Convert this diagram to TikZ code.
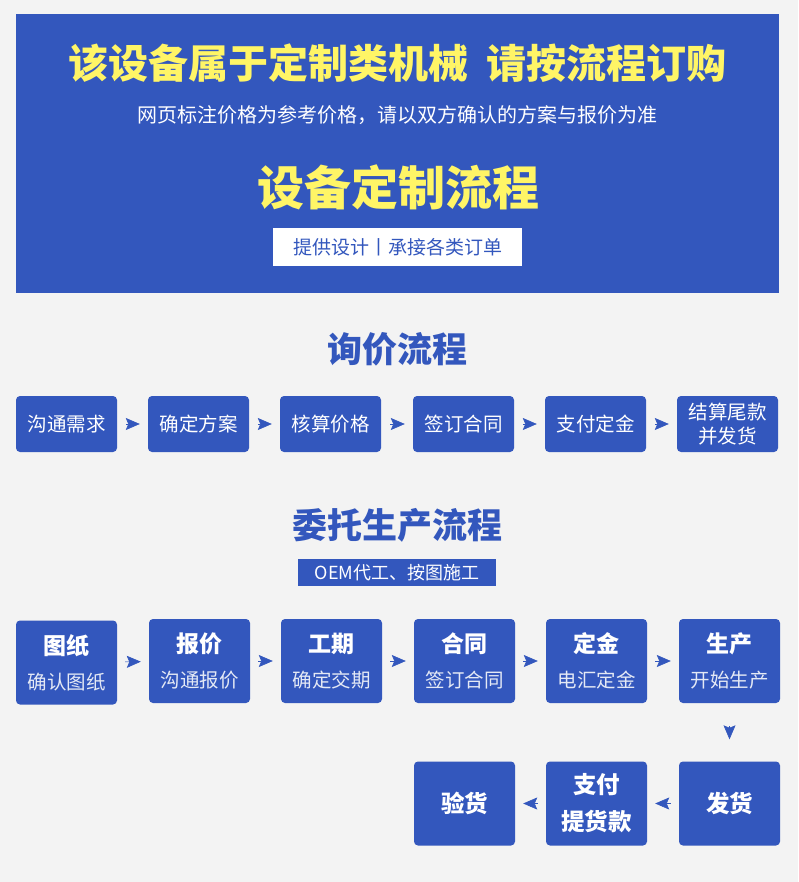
\documentclass[tikz,border=0pt]{standalone}
\usepackage{fontspec}
\setmainfont{Noto Sans CJK SC}
\usetikzlibrary{arrows.meta}
\definecolor{bg}{RGB}{243,243,243}
\definecolor{mainblue}{RGB}{51,87,189}
\definecolor{ttlyellow}{RGB}{255,245,102}
\definecolor{subwhite}{RGB}{228,233,245}
\tikzset{
  stepbox/.style={fill=mainblue, rounded corners=4pt, minimum width=101pt, inner sep=0pt, text=white, align=center},
  smallbox/.style={stepbox, minimum height=56pt, font=\fontsize{19.5}{23}\selectfont},
  bigbox/.style={stepbox, minimum height=84pt, font=\fontsize{20}{35}\selectfont},
  flow/.style={draw=mainblue, fill=mainblue, line width=0.6pt, -{Stealth[length=14pt,width=12pt,inset=2.5pt]}},
  ttl/.style={text=mainblue, font=\fontsize{35}{40}\selectfont\bfseries}
}
\newcommand{\twol}[2]{{\fontsize{23}{28}\selectfont\bfseries #1}\\{\fontsize{19.5}{26}\selectfont\color{subwhite}#2}}
\newcommand{\boldl}[1]{{\fontsize{23.5}{31}\selectfont\bfseries #1}}
\begin{document}
\begin{tikzpicture}[x=1pt,y=-1pt]
\fill[bg] (0,0) rectangle (798,882);
\useasboundingbox (0,0) rectangle (798,882);
% banner
\fill[mainblue] (16,14) rectangle (779,293);
\node[text=ttlyellow, font=\fontsize{40}{46}\selectfont\bfseries] (t1) at (397,63) {该设备属于定制类机械\hspace{18pt}请按流程订购};
\node[text=white, font=\fontsize{20}{24}\selectfont] (t2) at (397,115) {网页标注价格为参考价格，请以双方确认的方案与报价为准};
\node[text=ttlyellow, font=\fontsize{47}{54}\selectfont\bfseries] (t3) at (398,187) {设备定制流程};
\node[fill=white, text=mainblue, minimum width=249pt, minimum height=38pt, inner sep=0pt, font=\fontsize{19}{22}\selectfont] (t4) at (397.5,247) {提供设计丨承接各类订单};
% section 1
\node[ttl] (s1) at (397.5,349) {询价流程};
\node[smallbox] (a1) at (66.5,424) {沟通需求};
\node[smallbox] (a2) at (198.5,424) {确定方案};
\node[smallbox] (a3) at (330.5,424) {核算价格};
\node[smallbox] (a4) at (463.5,424) {签订合同};
\node[smallbox] (a5) at (595.5,424) {支付定金};
\node[smallbox, font=\fontsize{19.5}{24.5}\selectfont] (a6) at (727.5,424) {结算尾款\\并发货};
\foreach \i/\j in {a1/a2,a2/a3,a3/a4,a4/a5,a5/a6}
  \draw[flow, shorten <=9pt, shorten >=8pt] (\i) -- (\j);
% section 2
\node[ttl] (s2) at (397.5,525) {委托生产流程};
\node[fill=mainblue, text=white, minimum width=198pt, minimum height=27pt, inner sep=0pt, font=\fontsize{18}{21}\selectfont] (oem) at (397,572.5) {OEM代工、按图施工};
\node[bigbox] (b1) at (66.5,662.5) {\twol{图纸}{确认图纸}};
\node[bigbox] (b2) at (199.5,661) {\twol{报价}{沟通报价}};
\node[bigbox] (b3) at (331.5,661) {\twol{工期}{确定交期}};
\node[bigbox] (b4) at (464.5,661) {\twol{合同}{签订合同}};
\node[bigbox] (b5) at (596.5,661) {\twol{定金}{电汇定金}};
\node[bigbox] (b6) at (729.5,661) {\twol{生产}{开始生产}};
\node[bigbox] (c1) at (729.5,803.5) {\boldl{发货}};
\node[bigbox, font=\fontsize{20}{37}\selectfont] (c2) at (596.5,803.5) {\boldl{支付}\\\boldl{提货款}};
\node[bigbox] (c3) at (464.5,803.5) {\boldl{验货}};
\foreach \i/\j in {b1/b2,b2/b3,b3/b4,b4/b5,b5/b6,c1/c2,c2/c3}
  \draw[flow, shorten <=8pt, shorten >=8pt] (\i) -- (\j);
\draw[flow, shorten <=23pt, shorten >=22pt] (b6) -- (c1);
\end{tikzpicture}
\end{document}
